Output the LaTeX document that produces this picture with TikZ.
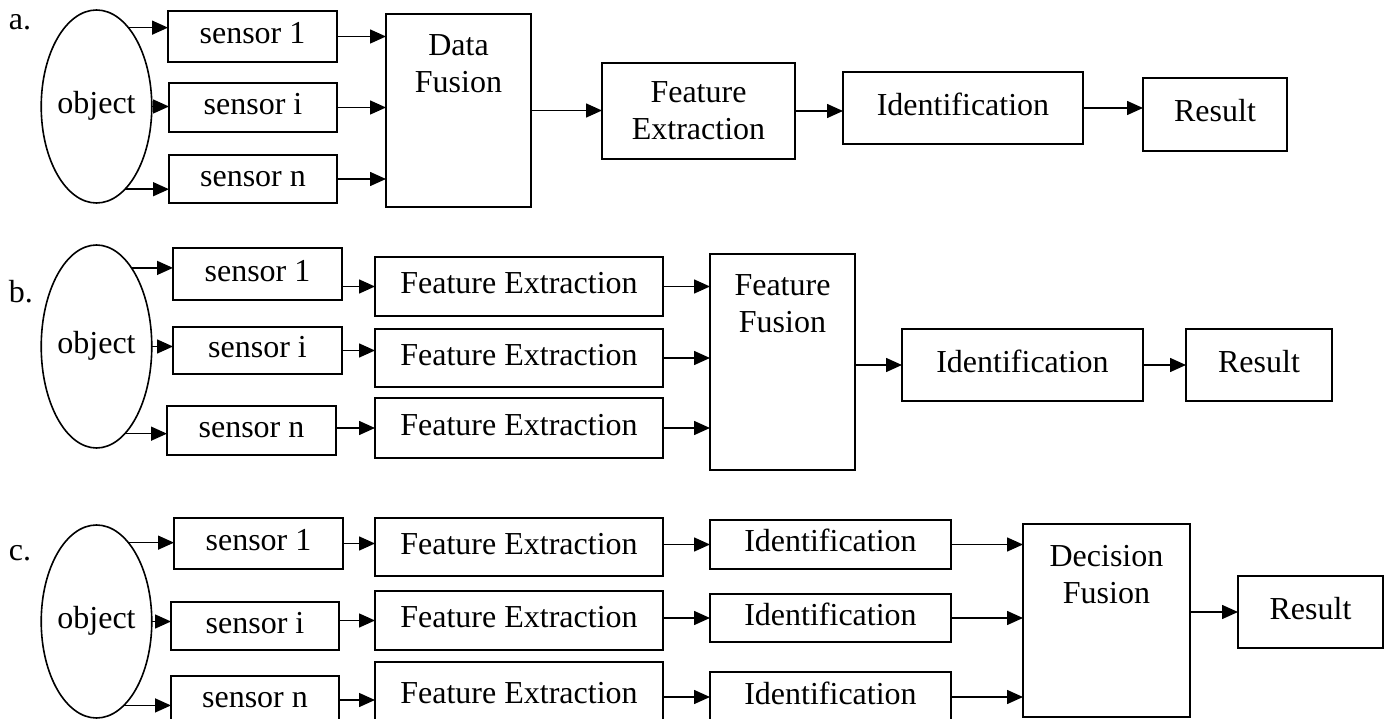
\documentclass[tikz,border=0pt]{standalone}
\usepackage{fontspec}
\setmainfont{Liberation Serif}
\usetikzlibrary{shapes.geometric,arrows.meta,calc}
\begin{document}
\begin{tikzpicture}[x=1pt,y=-1pt,
  every node/.style={font=\fontsize{32}{37}\selectfont, inner sep=0pt, outer sep=0pt},
  blk/.style 2 args={draw, line width=1.7pt, minimum width=#1pt, minimum height=#2pt},
  one/.style={text height=22.4pt, text depth=8pt},
  obj/.style={draw, ellipse, line width=1.6pt, minimum width=97pt, minimum height=#1pt, one},
  two/.style={align=center},
  arr/.style={-{Triangle[length=16pt,width=14pt]}, line width=1.5pt},
  tag/.style={anchor=base west}]

\useasboundingbox (0,0) rectangle (1390,719);
\fill[white] (0,0) rectangle (1390,719);
\clip (0,0) rectangle (1390,719);

% ---------- a. data-level fusion ----------
\node[tag] (la) at (9,30) {a.};
\node[obj=193] (ao) at (96.5,106.5) {object};
\node[blk={169}{51}, one] (as1) at (252.5,36.5) {sensor 1};
\node[blk={168}{49}, one] (asi) at (253,107.5) {sensor i};
\node[blk={168}{48}, one] (asn) at (253,179) {sensor n};
\node[blk={145}{193}] (adf) at (458.5,110.5) {};
\node[two, anchor=north] (adft) at ($(adf.north)+(0,21)$) {Data\\Fusion};
\node[blk={193}{96}, two] (afe) at (698.5,111) {Feature\\Extraction};
\node[blk={240}{72}, one] (aid) at (963,108) {Identification};
\node[blk={144}{73}, one] (ares) at (1215,114.5) {Result};

\draw[arr] (ao.68) -- (ao.68 -| as1.west);
\draw[arr] (ao.east) -- (ao.east -| asi.west);
\draw[arr] (ao.-71) -- (ao.-71 -| asn.west);
\draw[arr] (as1.east) -- (as1.east -| adf.west);
\draw[arr] (asi.east) -- (asi.east -| adf.west);
\draw[arr] (asn.east) -- (asn.east -| adf.west);
\draw[arr] (adf.east) -- (adf.east -| afe.west);
\draw[arr] (afe.east) -- (afe.east -| aid.west);
\draw[arr] (aid.east) -- (aid.east -| ares.west);

% ---------- b. feature-level fusion ----------
\node[tag] (lb) at (9,303) {b.};
\node[obj=203] (bo) at (96.5,346.5) {object};
\node[blk={169}{52}, one] (bs1) at (257.5,274) {sensor 1};
\node[blk={169}{47}, one] (bsi) at (257.5,350.5) {sensor i};
\node[blk={169}{49}, one] (bsn) at (251.5,430.5) {sensor n};
\node[blk={288}{59}, one] (bfe1) at (519,286.5) {Feature Extraction};
\node[blk={288}{58}, one] (bfe2) at (519,358) {Feature Extraction};
\node[blk={288}{60}, one] (bfe3) at (519,428) {Feature Extraction};
\node[blk={145}{216}] (bff) at (782.5,362) {};
\node[two, anchor=north] (bfft) at ($(bff.north)+(0,21)$) {Feature\\Fusion};
\node[blk={241}{72}, one] (bid) at (1022.5,365) {Identification};
\node[blk={146}{72}, one] (bres) at (1259,365) {Result};

\draw[arr] (bo.66) -- (bo.66 -| bs1.west);
\draw[arr] (bo.east) -- (bo.east -| bsi.west);
\draw[arr] (bo.-72) -- (bo.-72 -| bsn.west);
\draw[arr] (bfe1.west -| bs1.east) -- (bfe1.west);
\draw[arr] (bsi.east) -- (bsi.east -| bfe2.west);
\draw[arr] (bfe3.west -| bsn.east) -- (bfe3.west);
\draw[arr] (bfe1.east) -- (bfe1.east -| bff.west);
\draw[arr] (bfe2.east) -- (bfe2.east -| bff.west);
\draw[arr] (bfe3.east) -- (bfe3.east -| bff.west);
\draw[arr] (bid.west -| bff.east) -- (bid.west);
\draw[arr] (bid.east) -- (bres.west);

% ---------- c. decision-level fusion ----------
\node[tag] (lc) at (9,560) {c.};
\node[obj=193] (co) at (96.5,621.5) {object};
\node[blk={169}{51}, one] (cs1) at (258.5,543.5) {sensor 1};
\node[blk={168}{48}, one] (csi) at (255,626) {sensor i};
\node[blk={168}{48}, one] (csn) at (255,700) {sensor n};
\node[blk={288}{58}, one] (cfe1) at (519,547) {Feature Extraction};
\node[blk={288}{59}, one] (cfe2) at (519,620.5) {Feature Extraction};
\node[blk={288}{68}, one] (cfe3) at (519,696) {Feature Extraction};
\node[blk={241}{49}, one] (cid1) at (830.5,544.5) {Identification};
\node[blk={241}{48}, one] (cid2) at (830.5,618) {Identification};
\node[blk={241}{50}, one] (cid3) at (830.5,697) {Identification};
\node[blk={167}{193}] (cdf) at (1106.5,620.5) {};
\node[two, anchor=north] (cdft) at ($(cdf.north)+(0,21)$) {Decision\\Fusion};
\node[blk={145}{72}, one] (cres) at (1310.5,612) {Result};

\draw[arr] (co.68) -- (co.68 -| cs1.west);
\draw[arr] (co.east) -- (co.east -| csi.west);
\draw[arr] (co.-72) -- (co.-72 -| csn.west);
\draw[arr] (cs1.east) -- (cs1.east -| cfe1.west);
\draw[arr] (cfe2.west -| csi.east) -- (cfe2.west);
\draw[arr] (csn.east) -- (csn.east -| cfe3.west);
\draw[arr] (cid1.west -| cfe1.east) -- (cid1.west);
\draw[arr] (cid2.west -| cfe2.east) -- (cid2.west);
\draw[arr] (cid3.west -| cfe3.east) -- (cid3.west);
\draw[arr] (cid1.east) -- (cid1.east -| cdf.west);
\draw[arr] (cid2.east) -- (cid2.east -| cdf.west);
\draw[arr] (cid3.east) -- (cid3.east -| cdf.west);
\draw[arr] (cres.west -| cdf.east) -- (cres.west);
\end{tikzpicture}
\end{document}
